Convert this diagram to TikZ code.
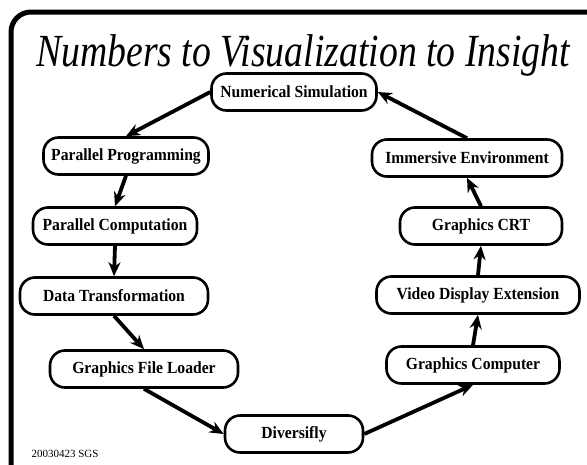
\documentclass[tikz,border=0pt]{standalone}
\usepackage{fontspec}
\setmainfont{Liberation Serif}
\newfontfamily\stagefont[FakeStretch=0.92]{Liberation Serif}
\newfontfamily\headfont[FakeStretch=0.82]{Liberation Serif}
\usetikzlibrary{arrows.meta}

\begin{document}
\begin{tikzpicture}[x=1pt, y=-1pt,
  stage/.style={rectangle, draw, line width=2.6pt, rounded corners=15pt, minimum height=37pt, inner sep=2pt, font=\stagefont\fontsize{17}{20}\selectfont\bfseries},
  flow/.style={->, line width=3.8pt},
  >={Stealth[length=14pt, width=12pt]}]
  % Frame
  \path[use as bounding box, clip] (0,0) rectangle (587,464);
  \fill[white] (0,0) rectangle (587,464);
  \draw[line width=5pt, rounded corners=20pt] (11,12) rectangle (620,500);
  % Header
  \node (title) [anchor=base, font=\headfont\fontsize{46}{50}\selectfont\itshape] at (303,66) {Numbers to Visualization to Insight};
  % Nodes
  \node (ns) [stage, minimum width=165pt] at (294,92) {Numerical Simulation};
  \node (pp) [stage, minimum width=165pt] at (126,156) {Parallel Programming};
  \node (pc) [stage, minimum width=164pt] at (115,226) {Parallel Computation};
  \node (dt) [stage, minimum width=188pt] at (114,296) {Data Transformation};
  \node (gfl) [stage, minimum width=188pt] at (144,369) {Graphics File Loader};
  \node (div) [stage, minimum width=138pt] at (294,434) {Diversifly};
  \node (gc) [stage, minimum width=173pt] at (473,365) {Graphics Computer};
  \node (vde) [stage, minimum width=203pt] at (478,295) {Video Display Extension};
  \node (crt) [stage, minimum width=162pt] at (481,226) {Graphics CRT};
  \node (ie) [stage, minimum width=190pt] at (467,158) {Immersive Environment};
  % Arrows
  \draw[flow] (ns.west) -- (pp.north);
  \draw[flow] (pp.south) -- (pc.north);
  \draw[flow] (pc.south) -- (dt.north);
  \draw[flow] (dt.south) -- (gfl.north);
  \draw[flow] (gfl.south) -- (div.west);
  \draw[flow] (div.east) -- (gc.south);
  \draw[flow] (gc.north) -- (vde.south);
  \draw[flow] (vde.north) -- (crt.south);
  \draw[flow] (crt.north) -- (ie.south);
  \draw[flow] (ie.north) -- (ns.east);
  % Footer
  \node (stamp) [anchor=base west, font=\fontsize{11}{13}\selectfont] at (28,457) {20030423 SGS};
\end{tikzpicture}
\end{document}
